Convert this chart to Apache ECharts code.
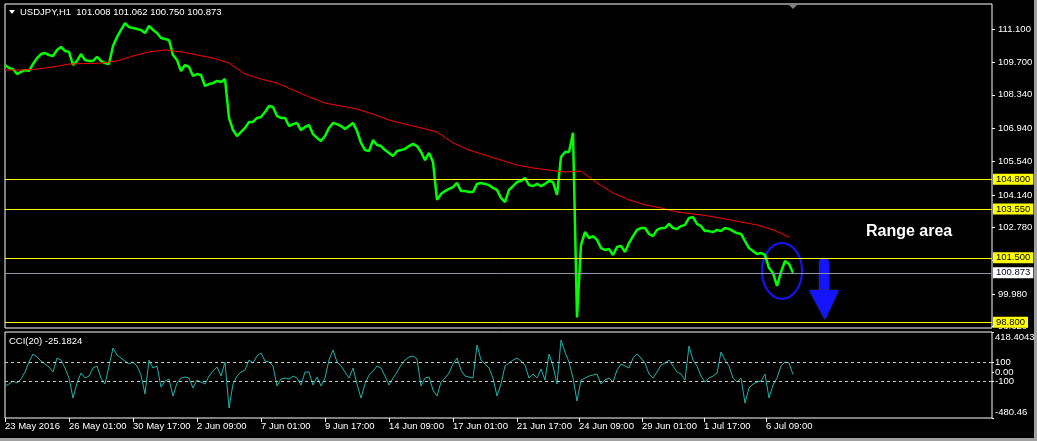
<!DOCTYPE html>
<html><head><meta charset="utf-8">
<script src="https://cdn.jsdelivr.net/npm/echarts@6/dist/echarts.min.js"></script>
<style>html,body{margin:0;padding:0;background:#000;}#c{width:1037px;height:441px;}</style>
</head><body><div id="c"></div>
<script>
// ---- data (H1 bars, sampled every BAR_STEP bars; x = bar index) ----
const BAR_STEP = 4;
const price = [
109.59,109.46,109.42,109.21,109.30,109.38,109.34,109.63,109.88,110.05,
110.09,110.01,109.97,110.22,110.35,110.18,110.14,109.59,109.76,110.05,
109.80,109.76,109.76,109.93,109.76,109.67,109.63,110.39,110.76,111.06,
111.35,111.18,111.14,111.10,111.06,110.93,111.23,111.06,110.93,110.72,
110.68,110.64,110.01,109.80,109.34,109.59,109.51,109.13,109.21,109.17,
108.71,108.79,108.83,108.92,108.88,109.00,107.37,106.86,106.61,106.78,
106.95,107.20,107.20,107.37,107.41,107.62,107.87,107.83,107.45,107.37,
107.37,107.03,107.11,107.16,106.86,106.99,107.07,106.69,106.53,106.40,
106.61,106.95,107.16,107.11,107.03,106.90,107.03,107.16,106.82,106.32,
106.02,105.98,106.44,106.23,106.19,106.02,105.90,105.77,105.98,106.02,
106.07,106.19,106.28,106.19,105.94,105.60,105.90,105.52,103.93,104.18,
104.30,104.39,104.47,104.64,104.30,104.30,104.26,104.26,104.60,104.64,
104.60,104.55,104.43,104.35,104.01,103.84,104.35,104.51,104.68,104.72,
104.85,104.55,104.51,104.60,104.51,104.60,104.72,104.68,104.14,105.73,
105.94,105.94,106.75,99.00,102.04,102.58,102.33,102.41,102.25,101.91,
101.83,101.87,101.62,101.95,102.00,101.74,102.12,102.41,102.67,102.75,
102.75,102.50,102.41,102.67,102.75,102.75,102.92,102.75,102.71,102.83,
102.88,103.17,103.21,102.92,102.83,102.62,102.62,102.58,102.67,102.62,
102.75,102.71,102.62,102.54,102.50,102.20,101.91,101.78,101.66,101.70,
101.62,101.07,100.86,100.32,100.90,101.37,101.24,100.873
];
const MA_STEP = 16;
const ma = [
109.38,109.38,109.42,109.51,109.63,109.65,109.67,109.76,109.97,110.14,
110.22,110.14,110.01,109.88,109.67,109.21,109.00,108.83,108.54,108.25,
107.99,107.87,107.74,107.53,107.28,107.11,106.95,106.78,106.32,106.02,
105.81,105.60,105.39,105.27,105.18,105.10,105.14,104.64,104.22,103.93,
103.72,103.59,103.42,103.34,103.25,103.13,103.00,102.88,102.67,102.37
];
const cci = [
-146,-125,-94,-115,-73,0,105,188,157,115,
84,52,0,146,125,42,-63,-272,-115,-10,
-63,-42,42,63,-63,-125,63,251,178,146,
115,84,105,63,-31,-230,125,42,63,-157,
-94,-73,-251,-115,-63,-52,-63,-167,-84,-105,
-125,-42,10,52,-42,105,-376,-125,-42,0,
21,125,94,167,199,115,105,63,-146,-73,
-63,-73,-42,-63,-136,0,0,-136,-52,-146,
-63,125,230,105,63,0,-63,42,-125,-272,
-125,-31,10,63,42,-42,-136,-63,0,73,
125,157,167,136,-146,-63,-52,-188,-251,-105,
-63,-10,84,146,21,-42,-52,-63,282,125,
84,42,-63,-251,-125,63,94,125,146,115,
73,-63,-21,-63,31,-84,188,63,-125,334,
209,105,-63,-303,-84,-63,-42,-31,-21,-125,
-84,-63,-105,21,84,63,42,146,188,146,
94,-21,-63,0,73,94,125,63,0,-21,
-84,272,125,63,-42,-105,-63,-42,-10,209,
125,63,-63,-105,-63,-324,-167,-125,-105,-94,
-21,-272,-136,-63,63,105,94,-25.1824
];
const timeTickPos = [0,64,128,192,256,320,384,448,512,574,637,699,761];
const timeTickLabels = ['23 May 2016','26 May 01:00','30 May 17:00','2 Jun 09:00','7 Jun 01:00','9 Jun 17:00','14 Jun 09:00','17 Jun 01:00','21 Jun 17:00','24 Jun 09:00','29 Jun 01:00','1 Jul 17:00','6 Jul 09:00'];
const priceTicks = [111.1,109.7,108.34,106.94,105.54,104.14,102.78,101.38,99.98,98.62];
const levels = [104.8,103.55,101.5,98.8];
const lastPrice = 100.873;
const cciMax = 418.4043, cciMin = -480.46;
const cciTicks = [cciMax,100,0,-100,cciMin];
const cciTickLabels = ['418.4043','100','0.00','-100','-480.46'];
const cciLevels = [100,-100];
const titleText = 'USDJPY,H1  101.008 101.062 100.750 100.873';
const cciTitle = 'CCI(20) -25.1824';
// annotation anchors in data space [bar, price]
const ellipseAnchor = [777, 100.95];
const arrowTipAnchor = [820, 98.89];
const rangeTextAnchor = [861, 102.62];

const FONT = '"Liberation Sans", Arial, sans-serif';
const FS = 9.5;
const X_MAX = 987;

const chart = echarts.init(document.getElementById('c'));
const lvlLabel = (txt, bg, fg) => ({show:true, position:'end', distance:1, formatter:txt,
  backgroundColor:bg, color:fg, padding:[1,3,0,3], fontFamily:FONT, fontSize:FS});

chart.setOption({
  backgroundColor:'#000',
  animation:false,
  grid:[
    {left:5, top:4, width:987, height:324, show:true, borderColor:'#fff', borderWidth:1, backgroundColor:'#000', outerBoundsMode:'none', containLabel:false},
    {left:5, top:332, width:987, height:86, show:true, borderColor:'#fff', borderWidth:1, backgroundColor:'#000', outerBoundsMode:'none', containLabel:false}
  ],
  xAxis:[
    {type:'value', gridIndex:0, min:0, max:X_MAX, show:false, axisLine:{onZero:false}},
    {type:'value', gridIndex:1, min:0, max:X_MAX, position:'bottom', axisLine:{show:false, onZero:false}, splitLine:{show:false},
      axisTick:{show:true, customValues:timeTickPos, length:4, lineStyle:{color:'#fff'}},
      axisLabel:{customValues:timeTickPos, formatter:v=>timeTickLabels[timeTickPos.indexOf(v)]||'',
        align:'left', margin:3, color:'#fff', fontFamily:FONT, fontSize:FS}}
  ],
  yAxis:[
    {type:'value', gridIndex:0, position:'right', min:98.554, max:112.15, axisLine:{show:false, onZero:false}, splitLine:{show:false},
      axisTick:{show:true, customValues:priceTicks, length:3, lineStyle:{color:'#fff'}},
      axisLabel:{customValues:priceTicks, formatter:v=>v.toFixed(3), margin:6, color:'#fff', fontFamily:FONT, fontSize:FS}},
    {type:'value', gridIndex:1, position:'right', min:cciMin, max:cciMax, axisLine:{show:false, onZero:false}, splitLine:{show:false},
      axisTick:{show:true, customValues:cciTicks, length:2, lineStyle:{color:'#fff'}},
      axisLabel:{customValues:cciTicks, margin:3, color:'#fff', fontFamily:FONT, fontSize:FS, showMinLabel:true, showMaxLabel:true,
        formatter:v=>{const t=cciTickLabels[cciTicks.indexOf(v)]||''; return v===cciMax?'{top|'+t+'}':(v===cciMin?'{bot|'+t+'}':t);},
        rich:{top:{padding:[11,0,0,0], color:'#fff', fontFamily:FONT, fontSize:FS}, bot:{padding:[0,0,11,0], color:'#fff', fontFamily:FONT, fontSize:FS}}}}
  ],
  series:[
    {type:'line', xAxisIndex:0, yAxisIndex:0, data:price.map((v,i)=>[i*BAR_STEP,v]), showSymbol:false,
      lineStyle:{color:'#00ff00', width:2.5}, z:3,
      markLine:{silent:true, symbol:'none', animation:false,
        data: levels.map(v=>({yAxis:v, lineStyle:{color:'#ffff00', width:1, type:'solid'}, label:lvlLabel(v.toFixed(3),'#ffff00','#000')}))
          .concat([{yAxis:lastPrice, lineStyle:{color:'#8a96a4', width:1, type:'solid'}, label:lvlLabel(lastPrice.toFixed(3),'#ffffff','#000033')}])}},
    {type:'line', xAxisIndex:0, yAxisIndex:0, data:ma.map((v,i)=>[i*MA_STEP,v]), showSymbol:false,
      lineStyle:{color:'#ff0000', width:1}, z:4},
    {type:'line', xAxisIndex:1, yAxisIndex:1, data:cci.map((v,i)=>[i*BAR_STEP,v]), showSymbol:false,
      lineStyle:{color:'#20b2aa', width:1},
      markLine:{silent:true, symbol:'none', label:{show:false},
        data:cciLevels.map(v=>({yAxis:v, lineStyle:{color:'#c8c8c8', width:1, type:[3,3]}}))}}
  ]
});

const toPx = p => chart.convertToPixel({xAxisIndex:0, yAxisIndex:0}, p);
const ec = toPx(ellipseAnchor);
const at = toPx(arrowTipAnchor);
const rt = toPx(rangeTextAnchor);
const BLUE = '#1414ff';
chart.setOption({graphic:[
  {type:'polygon', shape:{points:[[9,10],[15,10],[12,14]]}, style:{fill:'#fff'}},
  {type:'text', x:20, y:12, style:{text:titleText, fill:'#fff', font:FS+'px '+FONT, verticalAlign:'middle'}},
  {type:'text', x:9, y:341, style:{text:cciTitle, fill:'#fff', font:FS+'px '+FONT, verticalAlign:'middle'}},
  {type:'text', x:rt[0], y:rt[1], style:{text:'Range area', fill:'#fff', font:'bold 16px '+FONT, verticalAlign:'middle'}},
  {type:'ellipse', shape:{cx:ec[0], cy:ec[1], rx:20, ry:28}, style:{fill:'none', stroke:BLUE, lineWidth:2}},
  {type:'rect', shape:{x:at[0]-6, y:at[1]-62, width:10, height:34, r:[5,5,0,0]}, style:{fill:BLUE, shadowBlur:3, shadowColor:'rgba(60,60,60,0.8)'}},
  {type:'polygon', shape:{points:[[at[0]-16,at[1]-30],[at[0]+14,at[1]-30],[at[0],at[1]]]}, style:{fill:BLUE, shadowBlur:3, shadowColor:'rgba(60,60,60,0.8)'}},
  {type:'polygon', shape:{points:[[788,4],[798,4],[793,9]]}, style:{fill:'#808080'}},
  {type:'rect', shape:{x:1034, y:0, width:3, height:441}, style:{fill:'#a0a0a0'}},
  {type:'rect', shape:{x:0, y:438, width:1037, height:3}, style:{fill:'#a0a0a0'}}
]});
</script></body></html>
